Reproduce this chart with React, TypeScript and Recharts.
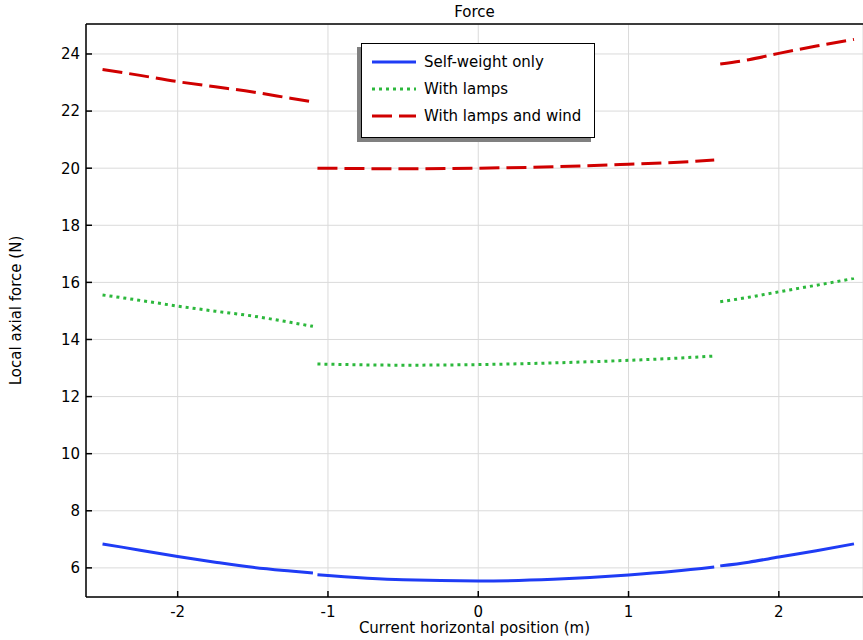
import React from 'react';
import { LineChart, Line, XAxis, YAxis, CartesianGrid, Legend, Label } from 'recharts';

// x positions (m) for the three beam segments
const leftX = [-2.5, -2.25, -2.0, -1.75, -1.5, -1.25, -1.1];
const midX = [-1.07, -0.5, 0, 0.5, 1.0, 1.3, 1.57];
const rightX = [1.61, 1.8, 2.0, 2.25, 2.5];

// local axial force (N)
const selfLeft = [6.84, 6.62, 6.4, 6.2, 6.02, 5.89, 5.82];
const selfMid = [5.76, 5.58, 5.54, 5.6, 5.75, 5.88, 6.03];
const selfRight = [6.07, 6.2, 6.38, 6.6, 6.84];

const lampsLeft = [15.56, 15.37, 15.17, 14.99, 14.82, 14.6, 14.46];
const lampsMid = [13.14, 13.1, 13.12, 13.18, 13.27, 13.34, 13.42];
const lampsRight = [15.32, 15.48, 15.67, 15.9, 16.14];

const windLeft = [23.46, 23.25, 23.03, 22.85, 22.67, 22.45, 22.32];
const windMid = [20.0, 19.98, 20.0, 20.05, 20.14, 20.2, 20.29];
const windRight = [23.65, 23.8, 24.02, 24.28, 24.51];

const xTicks = [-2, -1, 0, 1, 2];
const yTicks = [6, 8, 10, 12, 14, 16, 18, 20, 22, 24];

const seg = (xs: number[], ys: number[]) => xs.map((x, i) => ({ x, y: ys[i] }));

const series = [
  { name: 'Self-weight only', color: '#1f3cf5', dash: undefined, parts: [seg(leftX, selfLeft), seg(midX, selfMid), seg(rightX, selfRight)] },
  { name: 'With lamps', color: '#2cb83c', dash: '3 4', parts: [seg(leftX, lampsLeft), seg(midX, lampsMid), seg(rightX, lampsRight)] },
  { name: 'With lamps and wind', color: '#d00000', dash: '20 7', parts: [seg(leftX, windLeft), seg(midX, windMid), seg(rightX, windRight)] },
];

const font = '"DejaVu Sans", sans-serif';
const tickStyle = { fontSize: 15, fill: '#000', fontFamily: font };

const LegendBox = () => (
  <div
    style={{
      width: 232,
      height: 88,
      border: '1.5px solid #000',
      background: '#fff',
      boxShadow: '-4px 4px 0 #808080',
      fontFamily: font,
      fontSize: 15,
      color: '#000',
      paddingTop: 5,
      boxSizing: 'content-box',
    }}
  >
    {series.map((s) => (
      <div key={s.name} style={{ display: 'flex', alignItems: 'center', height: 26.7 }}>
        <svg width={44} height={6} style={{ marginLeft: 10, marginRight: 8 }}>
          <line x1={0} y1={3} x2={44} y2={3} stroke={s.color} strokeWidth={3} strokeDasharray={s.dash} />
        </svg>
        <span>{s.name}</span>
      </div>
    ))}
  </div>
);

export default function App() {
  return (
    <div style={{ position: 'absolute', left: 0, top: 0, width: 863, height: 640, background: '#fff' }}>
      <LineChart width={863} height={640} margin={{ top: 0, right: 0, left: 0, bottom: 0 }}>
        <CartesianGrid stroke="#dadada" strokeWidth={1} />
        <XAxis
          xAxisId="top"
          orientation="top"
          type="number"
          dataKey="x"
          domain={[-2.61, 2.56]}
          ticks={xTicks}
          allowDataOverflow
          height={24}
          tick={false}
          tickSize={-6}
          stroke="#000"
          axisLine={{ stroke: '#000', strokeWidth: 1.5 }}
          tickLine={{ stroke: '#000', strokeWidth: 1.5 }}
        >
          <Label value="Force" position="center" style={{ fontSize: 15, fill: '#000', fontFamily: font }} />
        </XAxis>
        <XAxis
          type="number"
          dataKey="x"
          domain={[-2.61, 2.56]}
          ticks={xTicks}
          allowDataOverflow
          height={43}
          tickSize={-6}
          tickMargin={15}
          tick={tickStyle}
          axisLine={{ stroke: '#000', strokeWidth: 1.5 }}
          tickLine={{ stroke: '#000', strokeWidth: 1.5 }}
        >
          <Label
            value="Current horizontal position (m)"
            position="insideBottom"
            offset={7}
            style={{ fontSize: 15, fill: '#000', fontFamily: font }}
          />
        </XAxis>
        <YAxis
          type="number"
          domain={[4.98, 25.05]}
          ticks={yTicks}
          allowDataOverflow
          width={86}
          tickSize={-6}
          tickMargin={12}
          tick={tickStyle}
          axisLine={{ stroke: '#000', strokeWidth: 1.5 }}
          tickLine={{ stroke: '#000', strokeWidth: 1.5 }}
        >
          <Label
            content={({ viewBox }: any) => {
              const cx = viewBox.x + 16;
              const cy = viewBox.y + viewBox.height / 2;
              return (
                <text
                  x={cx}
                  y={cy}
                  transform={`rotate(-90, ${cx}, ${cy})`}
                  textAnchor="middle"
                  dominantBaseline="central"
                  style={{ fontSize: 15, fill: '#000', fontFamily: font }}
                >
                  Local axial force (N)
                </text>
              );
            }}
          />
        </YAxis>
        {series.map((s) =>
          s.parts.map((part, i) => (
            <Line
              key={`${s.name}-${i}`}
              data={part}
              dataKey="y"
              name={s.name}
              type="monotone"
              stroke={s.color}
              strokeWidth={3}
              strokeDasharray={s.dash}
              dot={false}
              activeDot={false}
              isAnimationActive={false}
            />
          ))
        )}
        <Legend
          layout="vertical"
          align="center"
          verticalAlign="middle"
          content={() => <LegendBox />}
          wrapperStyle={{ left: 361, top: 43, width: 236, height: 95 }}
        />
      </LineChart>
    </div>
  );
}
